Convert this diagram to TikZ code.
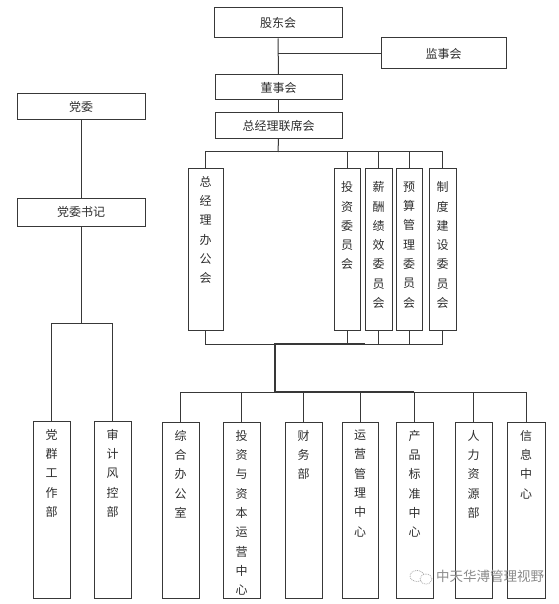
\documentclass[tikz,border=0pt]{standalone}
\usepackage{fontspec}
\newfontfamily\cjk{Noto Sans CJK SC}
\definecolor{lc}{gray}{0.22}
\definecolor{tc}{gray}{0.18}
\begin{document}
\begin{tikzpicture}[x=1pt,y=-1pt,
  box/.style={draw=lc, line width=1pt, inner sep=0pt, fill=white, font=\cjk\fontsize{12}{12}\selectfont, text=tc},
  ln/.style={draw=lc, line width=1pt},
  hb/.style={draw=lc, line width=2pt},
  vtxt/.style={font=\cjk\fontsize{12}{19.3}\selectfont, align=center, inner sep=0pt, text=tc, anchor=north}]
\useasboundingbox[fill=white] (0,0) rectangle (558,604);
% top boxes
\node[box, minimum width=128pt, minimum height=30pt] (gd) at (278,23) {股东会};
\node[box, minimum width=125pt, minimum height=31pt] (js) at (443.5,53.5) {监事会};
\node[box, minimum width=127pt, minimum height=25pt] (dsh) at (278.5,87.5) {董事会};
\node[box, minimum width=127pt, minimum height=26pt] (zjl) at (278.5,125.5) {总经理联席会};
% committees
\node[box, minimum width=35pt, minimum height=162pt] (zb) at (205.5,249) {};
\node[box, minimum width=26pt, minimum height=162pt] (tz) at (347,249) {};
\node[box, minimum width=27pt, minimum height=162pt] (xc) at (378.5,249) {};
\node[box, minimum width=26pt, minimum height=162pt] (ys) at (409,249) {};
\node[box, minimum width=27pt, minimum height=162pt] (zd) at (442.5,249) {};
\node[vtxt] (zb-t) at ([yshift=-8.5pt]zb.north) {总\\经\\理\\办\\公\\会};
\node[vtxt] (tz-t) at ([yshift=-14pt]tz.north) {投\\资\\委\\员\\会};
\node[vtxt] (xc-t) at ([yshift=-14pt]xc.north) {薪\\酬\\绩\\效\\委\\员\\会};
\node[vtxt] (ys-t) at ([yshift=-14pt]ys.north) {预\\算\\管\\理\\委\\员\\会};
\node[vtxt] (zd-t) at ([yshift=-14pt]zd.north) {制\\度\\建\\设\\委\\员\\会};
% party
\node[box, minimum width=128pt, minimum height=26pt] (dw) at (81,107) {党委};
\node[box, minimum width=128pt, minimum height=28pt] (dwsj) at (81,212) {党委书记};
\node[box, minimum width=37pt, minimum height=177pt] (qg) at (51.5,509.5) {};
\node[box, minimum width=37pt, minimum height=177pt] (sj) at (112.5,509.5) {};
\node[vtxt] (qg-t) at ([yshift=-8.5pt]qg.north) {党\\群\\工\\作\\部};
\node[vtxt] (sj-t) at ([yshift=-8.5pt]sj.north) {审\\计\\风\\控\\部};
% departments
\node[box, minimum width=37pt, minimum height=176pt] (zh) at (180.5,510) {};
\node[box, minimum width=37pt, minimum height=176pt] (tzzb) at (241.5,510) {};
\node[box, minimum width=37pt, minimum height=176pt] (cw) at (303.5,510) {};
\node[box, minimum width=36pt, minimum height=176pt] (yy) at (360,510) {};
\node[box, minimum width=37pt, minimum height=176pt] (cp) at (414.5,510) {};
\node[box, minimum width=37pt, minimum height=176pt] (rl) at (473.5,510) {};
\node[box, minimum width=38pt, minimum height=176pt] (xx) at (526,510) {};
\node[vtxt] (zh-t) at ([yshift=-8.5pt]zh.north) {综\\合\\办\\公\\室};
\node[vtxt] (tzzb-t) at ([yshift=-8.5pt]tzzb.north) {投\\资\\与\\资\\本\\运\\营\\中\\心};
\node[vtxt] (cw-t) at ([yshift=-8.5pt]cw.north) {财\\务\\部};
\node[vtxt] (yy-t) at ([yshift=-8.5pt]yy.north) {运\\营\\管\\理\\中\\心};
\node[vtxt] (cp-t) at ([yshift=-8.5pt]cp.north) {产\\品\\标\\准\\中\\心};
\node[vtxt] (rl-t) at ([yshift=-8.5pt]rl.north) {人\\力\\资\\源\\部};
\node[vtxt] (xx-t) at ([yshift=-8.5pt]xx.north) {信\\息\\中\\心};
% connectors top
\draw[ln] (gd.south) -- (dsh.north);
\draw[ln] (gd.south |- js.west) -- (js.west);
\draw[ln] (dsh.south) -- (zjl.north);
\coordinate (t1) at (278,152);
\draw[ln] (zjl.south) -- (t1);
\draw[ln] (zb.north) -- (zb.north |- t1) -- (zd.north |- t1) -- (zd.north);
\draw[ln] (tz.north) -- (tz.north |- t1);
\draw[ln] (xc.north) -- (xc.north |- t1);
\draw[ln] (ys.north) -- (ys.north |- t1);
% bottom of committees
\coordinate (b1) at (275,344);
\coordinate (b1e) at (365,344);
\coordinate (b2) at (275,392);
\coordinate (b2e) at (414,392);
\draw[ln] (zb.south) -- (zb.south |- b1) -- (zd.south |- b1) -- (zd.south);
\draw[ln] (tz.south) -- (tz.south |- b1);
\draw[ln] (xc.south) -- (xc.south |- b1);
\draw[ln] (ys.south) -- (ys.south |- b1);
\draw[hb] (b1e) -- (b1) -- (b2);
% departments bus
\draw[ln] (zh.north) -- (zh.north |- b2) -- (xx.north |- b2) -- (xx.north);
\draw[line width=1.6pt, draw=lc] (b2) -- (b2e);
\draw[ln] (tzzb.north) -- (tzzb.north |- b2);
\draw[ln] (cw.north) -- (cw.north |- b2);
\draw[ln] (yy.north) -- (yy.north |- b2);
\draw[ln] (cp.north) -- (cp.north |- b2);
\draw[ln] (rl.north) -- (rl.north |- b2);
% party connectors
\coordinate (l1) at (81,323);
\draw[ln] (dw.south) -- (dwsj.north);
\draw[ln] (dwsj.south) -- (l1);
\draw[ln] (qg.north) -- (qg.north |- l1) -- (sj.north |- l1) -- (sj.north);
% watermark
\draw[black!35, densely dotted, line width=0.8pt] (417,576) ellipse (7pt and 5.5pt);
\draw[black!35, densely dotted, line width=0.8pt, fill=white] (426,579) ellipse (6pt and 5pt);
\node[font=\cjk\fontsize{13.5}{13.5}\selectfont, text=black!45, anchor=west, inner sep=0pt] (wm) at (436,576) {中天华溥管理视野};
\end{tikzpicture}
\end{document}
